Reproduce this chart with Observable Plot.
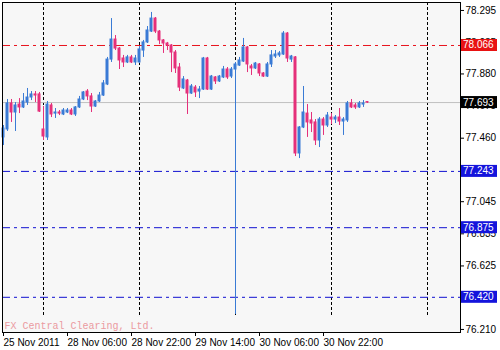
<!DOCTYPE html>
<html><head><meta charset="utf-8">
<script src="https://cdn.jsdelivr.net/npm/d3@7"></script>
<script src="https://cdn.jsdelivr.net/npm/@observablehq/plot@0.6"></script>
<style>html,body{margin:0;padding:0;background:#fff}svg{display:block}</style>
</head><body><div id="chart"></div>
<script>
// Hourly bars, index 0 = 25 Nov 2011 14:00
const open = [77.465,77.517,77.687,77.628,77.680,77.661,77.693,77.726,77.746,77.746,
77.517,77.465,77.674,77.621,77.628,77.615,77.628,77.641,77.615,77.661,
77.713,77.765,77.733,77.667,77.700,77.739,77.811,77.974,78.105,78.046,
77.981,77.955,77.988,77.955,77.955,78.033,78.086,78.157,78.242,78.157,
78.099,78.079,78.066,78.020,77.922,77.785,77.837,77.752,77.791,77.765,
77.778,77.981,77.778,77.857,77.831,77.857,77.909,77.863,77.909,77.935,
77.961,78.053,77.929,77.916,77.942,77.883,77.863,77.942,77.994,78.001,
78.007,78.144,77.974,77.988,77.360,77.530,77.621,77.576,77.563,77.445,
77.582,77.543,77.595,77.582,77.595,77.569,77.576,77.687,77.674,77.661,
77.680,77.696];
const high = [77.543,77.713,77.713,77.693,77.719,77.752,77.785,77.765,77.765,77.759,
77.667,77.700,77.687,77.654,77.641,77.654,77.654,77.654,77.667,77.733,
77.765,77.778,77.752,77.706,77.759,77.837,77.988,78.242,78.131,78.053,
78.001,78.001,78.001,78.001,78.059,78.099,78.190,78.282,78.249,78.164,
78.105,78.086,78.072,78.033,77.948,77.863,77.844,77.811,77.804,77.798,
77.988,77.988,77.870,77.863,77.870,77.929,77.922,77.922,77.955,77.988,
78.112,78.059,77.942,77.955,77.948,77.889,77.955,78.033,78.033,78.027,
78.157,78.151,78.001,77.994,77.536,77.798,77.680,77.628,77.582,77.595,
77.595,77.628,77.621,77.608,77.654,77.595,77.700,77.713,77.687,77.700,
77.706,77.700];
const low = [77.412,77.504,77.563,77.504,77.621,77.654,77.674,77.706,77.693,77.628,
77.445,77.445,77.595,77.589,77.608,77.608,77.621,77.608,77.602,77.654,
77.706,77.706,77.628,77.661,77.693,77.733,77.804,77.955,78.033,77.909,
77.922,77.948,77.948,77.935,77.948,77.988,78.079,78.151,78.144,78.072,
78.014,78.033,77.889,77.883,77.765,77.778,77.615,77.746,77.726,77.719,
77.772,77.772,77.772,77.811,77.824,77.850,77.844,77.850,76.308,77.929,
77.955,77.889,77.870,77.909,77.863,77.857,77.857,77.922,77.981,77.988,
78.001,77.955,77.955,77.340,77.327,77.523,77.465,77.497,77.412,77.399,
77.478,77.530,77.549,77.556,77.543,77.478,77.563,77.654,77.648,77.654,
77.661,77.687];
const close = [77.523,77.687,77.628,77.674,77.661,77.700,77.726,77.746,77.739,77.634,
77.471,77.680,77.615,77.628,77.621,77.641,77.641,77.615,77.661,77.713,
77.759,77.733,77.667,77.700,77.739,77.818,77.974,78.105,78.046,77.968,
77.955,77.988,77.955,77.981,78.040,78.086,78.164,78.242,78.157,78.099,
78.079,78.066,78.020,77.916,77.791,77.844,77.752,77.798,77.759,77.778,
77.981,77.778,77.863,77.831,77.863,77.909,77.857,77.909,77.942,77.968,
78.053,77.942,77.916,77.948,77.883,77.863,77.942,78.001,78.007,78.014,
78.144,77.981,77.994,77.360,77.530,77.628,77.563,77.556,77.445,77.582,
77.543,77.608,77.582,77.595,77.569,77.582,77.687,77.661,77.661,77.687,
77.687,77.693];

const timeTickBars = [0, 16, 32, 48, 64, 80];
const timeTickLabels = ["25 Nov 2011","28 Nov 06:00","28 Nov 22:00","29 Nov 14:00","30 Nov 06:00","30 Nov 22:00"];
const daySeparatorBars = [10, 34, 58, 82, 106];
const priceTicks = [78.295,78.085,77.880,77.675,77.460,77.250,77.045,76.835,76.625,76.420,76.210];
const currentPrice = 77.693;
const resistanceLevels = [78.066];
const supportLevels = [77.243, 76.875, 76.420];
const watermark = "FX Central Clearing, Ltd.";

const UP = "#3a7bd5", DOWN = "#e5307b";
const bars = open.map((o, i) => ({i, o, h: high[i], l: low[i], c: close[i], up: close[i] > o}));
const ups = bars.filter(d => d.up), downs = bars.filter(d => !d.up);

const chart = Plot.plot({
  width: 500, height: 350,
  marginLeft: 2, marginRight: 40, marginTop: 2, marginBottom: 18,
  style: {background: "#fff", fontFamily: "'Liberation Sans', Arial, sans-serif", fontSize: "10px", color: "#000"},
  x: {domain: [-0.25, 114.25]},
  y: {domain: [76.190, 78.347]},
  marks: [
    Plot.frame({fill: "#f7f7f7", stroke: null}),
    Plot.ruleX(daySeparatorBars, {x: d => d, stroke: "#000", strokeDasharray: "3,2", insetBottom: 17}),
    Plot.ruleY([currentPrice], {stroke: "#c0c0c0"}),
    Plot.ruleY(resistanceLevels, {stroke: "#e8141e", strokeDasharray: "8,4,3,4"}),
    Plot.ruleY(supportLevels, {stroke: "#1010d0", strokeDasharray: "8,4,3,4"}),
    Plot.ruleX(ups, {x: "i", y1: "l", y2: "h", stroke: UP}),
    Plot.ruleX(downs, {x: "i", y1: "l", y2: "h", stroke: DOWN}),
    Plot.rect(ups, {x1: d => d.i - 0.25, x2: d => d.i + 0.25, y1: "o", y2: "c", fill: UP, stroke: UP}),
    Plot.rect(downs, {x1: d => d.i - 0.25, x2: d => d.i + 0.25, y1: "o", y2: "c", fill: DOWN, stroke: DOWN}),
    Plot.text([watermark], {frameAnchor: "bottom-left", dx: 2, dy: -4, fill: "#eb9aa0", fontFamily: "'Liberation Mono', monospace", fontSize: 10}),
    Plot.axisX({ticks: timeTickBars, tickFormat: d => timeTickLabels[timeTickBars.indexOf(d)], textAnchor: "start", tickSize: 4, tickPadding: 2, label: null}),
    Plot.axisY({anchor: "right", ticks: priceTicks, tickFormat: d => d.toFixed(3), tickSize: 3, tickPadding: 2, label: null}),
    Plot.frame({stroke: "#000"})
  ]
});

// price label boxes on the right axis, positioned with the chart's own y scale
const yS = chart.scale("y");
const g = d3.select(chart).append("g")
  .attr("font-family", "'Liberation Sans', Arial, sans-serif")
  .attr("font-size", 10)
  .attr("text-anchor", "start");
const boxes = [
  ...resistanceLevels.map(v => ({v, bg: "#e81212"})),
  {v: currentPrice, bg: "#000"},
  ...supportLevels.map(v => ({v, bg: "#1414dc"}))
];
boxes.forEach(b => {
  const y = yS.apply(b.v);
  g.append("rect").attr("x", 461).attr("y", y - 6).attr("width", 36).attr("height", 12).attr("fill", b.bg);
  g.append("text").attr("x", 463).attr("y", y).attr("dy", "0.35em").attr("text-anchor", "start")
    .attr("fill", "#fff").text(b.v.toFixed(3));
});

document.getElementById("chart").appendChild(chart);
</script>
</body></html>
